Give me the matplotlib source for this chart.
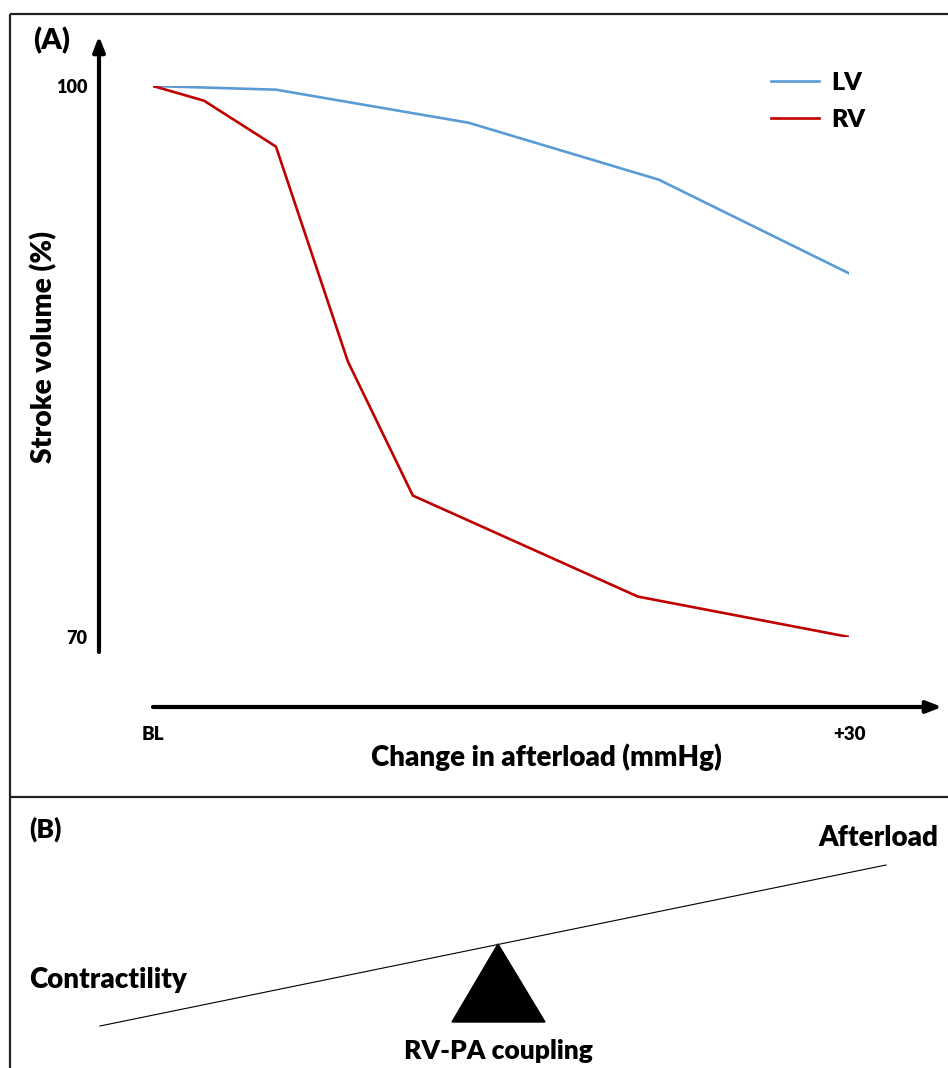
import matplotlib
matplotlib.use("Agg")
import matplotlib.pyplot as plt
from matplotlib.patches import Polygon

WEIGHT = 'heavy'
plt.rcParams['font.family'] = ['Lato', 'DejaVu Sans']
plt.rcParams['font.weight'] = WEIGHT
plt.rcParams['axes.labelweight'] = WEIGHT

# Panel A data (x: change in afterload, mmHg from baseline; y: stroke volume %)
lv_x = [0, 5.3, 13.6, 21.8, 30]
lv_y = [100, 99.8, 98.0, 94.9, 89.8]
rv_x = [0, 2.2, 5.3, 8.4, 11.2, 20.9, 30]
rv_y = [100, 99.2, 96.7, 85.0, 77.7, 72.2, 70]
x_ticks = [0, 30]
x_ticklabels = ['BL', '+30']
y_ticks = [70, 100]
y_ticklabels = ['70', '100']

W, H = 948, 1068
fig = plt.figure(figsize=(W / 100, H / 100), dpi=100)

# background layer in pixel coordinates for frames, arrows and panel B
bg = fig.add_axes([0, 0, 1, 1])
bg.set_xlim(0, W)
bg.set_ylim(H, 0)
bg.axis('off')

frame = dict(color='#222222', lw=1.6, solid_capstyle='butt')
bg.plot([10, W], [14, 14], **frame)
bg.plot([10, 10], [14, H], **frame)
bg.plot([10, W], [797, 797], **frame)

# axis arrows
bg.annotate('', xy=(99, 36), xytext=(99, 652),
            arrowprops=dict(arrowstyle='-|>,head_length=0.9,head_width=0.35',
                            lw=3, color='black', shrinkA=0, shrinkB=0))
bg.annotate('', xy=(942, 707), xytext=(153, 707),
            arrowprops=dict(arrowstyle='-|>,head_length=0.9,head_width=0.35',
                            lw=3, color='black', shrinkA=0, shrinkB=0))

bold = dict(fontweight=WEIGHT)
bg.text(33, 41, '(A)', fontsize=21, ha='left', va='center', **bold)

# panel B: balance
bg.text(29, 829, '(B)', fontsize=19, ha='left', va='center', **bold)
bg.plot([100, 886], [1026, 865], color='black', lw=0.8)
bg.add_patch(Polygon([[498, 944], [452, 1022], [545, 1022]], closed=True,
                     color='black'))
bg.text(938, 838, 'Afterload', fontsize=20, ha='right', va='center', **bold)
bg.text(29, 980, 'Contractility', fontsize=20, ha='left', va='center', **bold)
bg.text(498, 1051, 'RV-PA coupling', fontsize=19, ha='center', va='center', **bold)

# panel A data axes
ax = fig.add_axes([153 / W, 1 - 637 / H, 696 / W, 551 / H])
ax.patch.set_alpha(0)
ax.plot(lv_x, lv_y, color='#5B9BD5', lw=1.9, label='LV')
ax.plot(rv_x, rv_y, color='#C00000', lw=1.9, label='RV')
ax.set_xlim(0, 30)
ax.set_ylim(70, 100)
for s in ax.spines.values():
    s.set_visible(False)
ax.set_xticks(x_ticks, x_ticklabels)
ax.set_yticks(y_ticks, y_ticklabels)
ax.tick_params(axis='x', length=0, pad=64, labelsize=13.5)
ax.tick_params(axis='y', length=0, pad=47, labelsize=13)
for lab in ax.get_xticklabels() + ax.get_yticklabels():
    lab.set_fontweight(WEIGHT)

ax.set_xlabel('Change in afterload (mmHg)', fontsize=20, fontweight=WEIGHT,
              va='center', ha='center')
ax.xaxis.set_label_coords((546 - 153) / 696, (637 - 757) / 551)
ax.set_ylabel('Stroke volume (%)', fontsize=20.3, fontweight=WEIGHT,
              va='center', ha='center')
ax.yaxis.set_label_coords((44 - 153) / 696, (637 - 347) / 551)

ax.legend(loc='upper left', bbox_to_anchor=((771 - 153) / 696, (637 - 72) / 551),
          frameon=False, prop=dict(size=18, weight=WEIGHT), handlelength=1.9,
          handletextpad=0.5, labelspacing=0.6, borderpad=0, borderaxespad=0)

fig.savefig('out.png', dpi=100)
